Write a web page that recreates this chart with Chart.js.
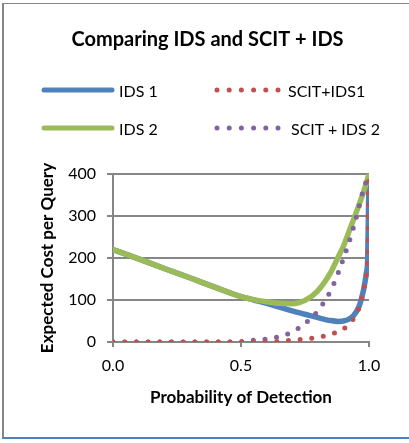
<!DOCTYPE html>
<html>
<head>
<meta charset="utf-8">
<script src="https://cdn.jsdelivr.net/npm/chart.js@4/dist/chart.umd.min.js"></script>
<style>
  body { margin: 0; background: #fff; }
  #wrap { position: relative; width: 409px; height: 443px; }
  #frame { position: absolute; left: 2px; top: 3px; width: 407px; height: 436px;
           border-left: 2px solid #868686; border-top: 1.5px solid #868686; border-bottom: 2px solid #4F81BD; box-sizing: border-box; }
  #legend { position: absolute; left: 0; top: 0; font-family: Lato, sans-serif; font-size: 16px; }
  canvas { position: absolute; left: 0; top: 0; }
</style>
</head>
<body>
<div id="wrap">
  <div id="frame"></div>
  <canvas id="myChart" width="409" height="443"></canvas>
  <svg id="legend" width="409" height="150">
    <line x1="44" y1="90" x2="112" y2="90" stroke="#4F81BD" stroke-width="5" stroke-linecap="round"/>
    <text x="119" y="90" dominant-baseline="central">IDS 1</text>
    <line x1="217" y1="90" x2="278" y2="90" stroke="#C0504D" stroke-width="5" stroke-linecap="round" stroke-dasharray="0 12.2"/>
    <text x="288" y="90" dominant-baseline="central">SCIT+IDS1</text>
    <line x1="44" y1="128" x2="112" y2="128" stroke="#9BBB59" stroke-width="5" stroke-linecap="round"/>
    <text x="119" y="128" dominant-baseline="central">IDS 2</text>
    <line x1="217" y1="128" x2="278" y2="128" stroke="#8064A2" stroke-width="5" stroke-linecap="round" stroke-dasharray="0 12.2"/>
    <text x="291" y="128" dominant-baseline="central">SCIT + IDS 2</text>
  </svg>
</div>
<script>
// probability of detection
const xValues = [0, 0.1, 0.2, 0.3, 0.4, 0.5, 0.55, 0.6, 0.65, 0.7, 0.75, 0.8, 0.85, 0.88, 0.9, 0.92, 0.94, 0.96, 0.97, 0.98, 0.99, 0.995, 1.0];
// expected cost per query
const ids1  = [220, 198, 175, 153, 130, 108, 100, 92, 83, 74, 66, 58, 51, 49, 50, 54, 63, 83, 102, 128, 165, 200, 400];
const ids2  = [220, 198, 175, 153, 130, 108, 101, 96, 92, 91, 99, 122, 165, 203, 228, 260, 292, 325, 342, 360, 380, 390, 400];
const scit1 = [0, 0, 0, 0, 0, 0, 0, 0.5, 1.6, 4.5, 7, 11, 18, 25, 31, 42, 56, 80, 100, 127, 163, 195, 400];
const scit2 = [0, 0, 0, 0, 0, 1, 4, 7, 13, 24, 44, 74, 122, 165, 199, 234, 274, 320, 345, 365, 384, 392, 400];
const xTicks = [0, 0.5, 1.0];
const yTicks = [0, 100, 200, 300, 400];

const pts = ys => xValues.map((x, i) => ({x: x, y: ys[i]}));

let ctx = document.getElementById('myChart').getContext('2d');

let costChart = new Chart(ctx, {
    type: 'line',
    data: {
        datasets: [{
            label: 'SCIT+IDS1',
            data: pts(scit1),
            borderColor: '#C0504D',
            borderWidth: 5,
            borderDash: [0, 11.7],
            borderCapStyle: 'round',
            order: 0
        }, {
            label: 'SCIT + IDS 2',
            data: pts(scit2),
            borderColor: '#8064A2',
            borderWidth: 5,
            borderDash: [0, 11.7],
            borderCapStyle: 'round',
            order: 0
        }, {
            label: 'IDS 2',
            data: pts(ids2),
            borderColor: '#9BBB59',
            borderWidth: 5.5,
            borderCapStyle: 'round',
            order: 1
        }, {
            label: 'IDS 1',
            data: pts(ids1),
            borderColor: '#4F81BD',
            borderWidth: 5.5,
            borderCapStyle: 'round',
            order: 1
        }]
    },
    options: {
        responsive: false,
        animation: false,
        elements: {
            point: { radius: 0 },
            line: { cubicInterpolationMode: 'monotone', fill: false }
        },
        layout: { padding: { left: 46, right: 40, top: 0, bottom: 20 } },
        plugins: {
            legend: { display: false },
            tooltip: { enabled: false },
            title: {
                display: true,
                text: 'Comparing IDS and SCIT + IDS',
                color: '#000',
                font: { family: 'Lato', size: 20, weight: 'bold', lineHeight: 1.2 },
                padding: { top: 28, bottom: 122 }
            }
        },
        scales: {
            x: {
                type: 'linear',
                min: 0,
                max: 1,
                afterBuildTicks: s => { s.ticks = xTicks.map(v => ({value: v})); },
                afterFit: s => { s.height = 81; },
                ticks: {
                    color: '#000',
                    padding: 9,
                    maxRotation: 0,
                    font: { family: 'Lato', size: 16 },
                    callback: v => Number(v).toFixed(1)
                },
                grid: { drawOnChartArea: false, drawTicks: true, tickLength: 5, color: '#868686', lineWidth: 2 },
                border: { color: '#868686', width: 2 },
                title: {
                    display: true,
                    text: 'Probability of Detection',
                    color: '#000',
                    font: { family: 'Lato', size: 17, weight: 'bold', lineHeight: 1.2 },
                    padding: { top: 0, bottom: 15 }
                }
            },
            y: {
                min: 0,
                max: 400,
                afterBuildTicks: s => { s.ticks = yTicks.map(v => ({value: v})); },
                afterFit: s => { s.width = 67; },
                ticks: {
                    color: '#000',
                    padding: 11,
                    font: { family: 'Lato', size: 16 }
                },
                grid: { color: '#868686', lineWidth: 2, tickLength: 6 },
                border: { color: '#868686', width: 2 },
                title: {
                    display: true,
                    text: 'Expected Cost per Query',
                    color: '#000',
                    font: { family: 'Lato', size: 17, weight: 'bold', lineHeight: 1.2 },
                    padding: { top: -9, bottom: 0 }
                }
            }
        }
    }
});
</script>
</body>
</html>
